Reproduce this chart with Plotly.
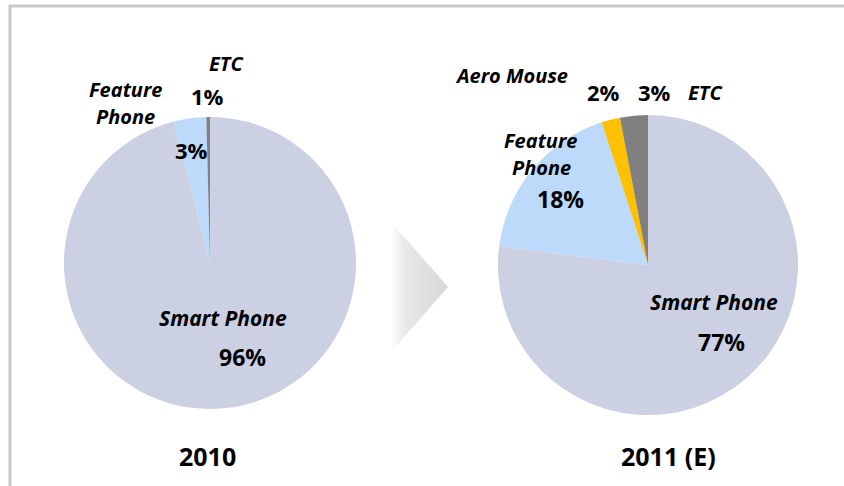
import plotly.graph_objects as go

# ---- data ----
years = ["2010", "2011 (E)"]
labels_2010 = ["Smart Phone", "Feature Phone", "ETC"]
values_2010 = [96.0, 3.6, 0.4]
pct_text_2010 = ["96%", "3%", "1%"]

labels_2011 = ["Smart Phone", "Feature Phone", "Aero Mouse", "ETC"]
values_2011 = [77, 18, 2, 3]
pct_text_2011 = ["77%", "18%", "2%", "3%"]

color_map = {
    "Smart Phone": "#CBD0E2",
    "Feature Phone": "#BDDAFA",
    "Aero Mouse": "#FFC000",
    "ETC": "#808080",
}

W, H = 844, 486
FONT = "Open Sans"


def px(x):
    return x / W


def py(y):
    return 1 - y / H


def dom(cx, cy, r):
    return dict(x=[px(cx - r), px(cx + r)], y=[py(cy + r), py(cy - r)])


fig = go.Figure()

# arrow (gradient chevron)
fig.add_trace(go.Scatter(
    x=[391, 448, 391, 391], y=[222, 287, 352, 222],
    mode="lines", fill="toself", line=dict(width=0),
    fillgradient=dict(type="horizontal",
                      colorscale=[[0, "#FFFFFF"], [0.25, "#E8E8E8"], [1, "#D8D8D8"]]),
    hoverinfo="skip", showlegend=False,
))

fig.add_trace(go.Pie(
    labels=labels_2010, values=values_2010, sort=False, direction="clockwise",
    rotation=0, textinfo="none", hoverinfo="label+percent",
    marker=dict(colors=[color_map[l] for l in labels_2010], line=dict(width=0)),
    domain=dom(210, 263, 146), showlegend=False,
))
fig.add_trace(go.Pie(
    labels=labels_2011, values=values_2011, sort=False, direction="clockwise",
    rotation=0, textinfo="none", hoverinfo="label+percent",
    marker=dict(colors=[color_map[l] for l in labels_2011], line=dict(width=0)),
    domain=dom(648, 265, 150), showlegend=False,
))

anns = []


def add(text, x, y, size, italic=False):
    anns.append(dict(
        text=f"<i>{text}</i>" if italic else text,
        x=px(x), y=py(y), xref="paper", yref="paper",
        xanchor="center", yanchor="middle", showarrow=False,
        font=dict(family=FONT, size=size, color="#000000", weight="bold"),
    ))


LBL = 20
PCT = 22

# 2010 pie labels
add("ETC", 226, 63, LBL, True)
add("Feature", 126, 90, LBL, True)
add("Phone", 126, 116, LBL, True)
add(pct_text_2010[2], 207, 96, PCT)
add(pct_text_2010[1], 191, 150, PCT)
add(labels_2010[0], 223, 318, 21, True)
add(pct_text_2010[0], 242, 357, 23)
add(years[0], 207, 456, 25)

# 2011 pie labels
add("Aero Mouse", 511, 76, LBL, True)
add(pct_text_2011[2], 603, 92, PCT)
add(pct_text_2011[3], 654, 92, PCT)
add("ETC", 705, 92, LBL, True)
add("Feature", 541, 141, LBL, True)
add("Phone", 541, 167, LBL, True)
add(pct_text_2011[1], 560, 199, 23)
add(labels_2011[0], 714, 302, 21, True)
add(pct_text_2011[0], 721, 342, 23)
add(years[1], 668, 456, 25)

shapes = [
    dict(type="line", xref="paper", yref="paper", x0=px(9), x1=1.0, y0=py(6), y1=py(6),
         line=dict(color="#C8C8C8", width=3)),
    dict(type="line", xref="paper", yref="paper", x0=px(10), x1=px(10), y0=py(5), y1=0,
         line=dict(color="#C8C8C8", width=3)),
]

fig.update_layout(
    width=W, height=H, margin=dict(l=0, r=0, t=0, b=0),
    paper_bgcolor="white", plot_bgcolor="rgba(0,0,0,0)",
    hovermode=False,
    xaxis=dict(range=[0, W], visible=False, fixedrange=True, domain=[0, 1]),
    yaxis=dict(range=[H, 0], visible=False, fixedrange=True, domain=[0, 1]),
    annotations=anns, shapes=shapes,
)

fig.write_html("out.html", config={"displayModeBar": False},
               post_script="document.body.style.margin='0px';")
